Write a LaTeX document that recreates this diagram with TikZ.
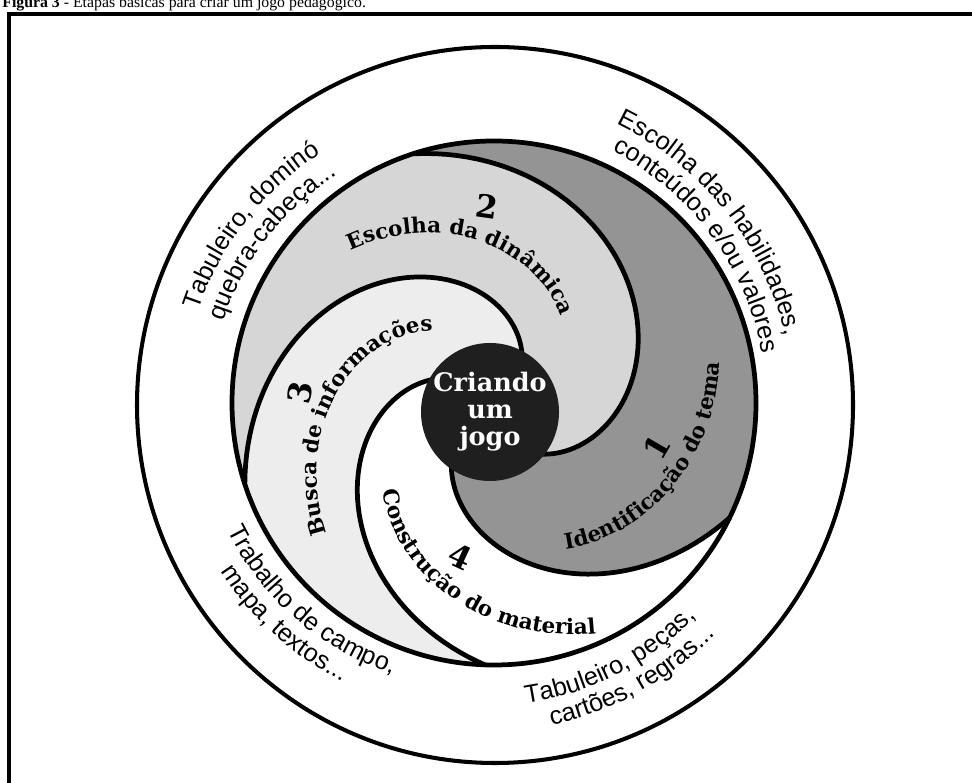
\documentclass[tikz,border=0pt]{standalone}
\usepackage{fontspec}
\setmainfont{Liberation Serif}
\newfontfamily\ringfont{Liberation Sans}
\newfontfamily\stagefont{DejaVu Serif}
\usetikzlibrary{decorations.text}
\definecolor{temagray}{gray}{0.58}
\definecolor{dinamicagray}{gray}{0.84}
\definecolor{buscagray}{gray}{0.93}
\definecolor{discgray}{gray}{0.12}
\newcommand{\ringtext}{\ringfont\fontsize{14.4}{17}\selectfont}
\newcommand{\stagetext}{\stagefont\bfseries\fontsize{12.2}{14}\selectfont}
\newcommand{\numtext}{\stagefont\bfseries\fontsize{18}{18}\selectfont}
\newcommand{\disctext}{\stagefont\bfseries\fontsize{14.5}{15.4}\selectfont}

\begin{document}
\begin{tikzpicture}[x=0.02cm, y=0.02cm,
    declare function={
        sr(\w,\sa,\sb,\ri,\ro)=\ri+(\ro-\ri)*((\w-\sa)/(\sb-\sa));
        spx(\w,\sa,\sb,\ri,\ro)=494+sr(\w,\sa,\sb,\ri,\ro)*cos(\w);
        spy(\w,\sa,\sb,\ri,\ro)=380+sr(\w,\sa,\sb,\ri,\ro)*sin(\w);
    },
    spiral/.style={line width=2.7pt, line join=round, line cap=round},
    ringlabel/.style={decorate, decoration={text along path, text align=center, text={|\ringtext|#1}}},
    stagelabel/.style={decorate, decoration={text along path, text align=center, text={|\stagetext|#1}}},
    stagenum/.style={font=\numtext, inner sep=0pt},
    centerdisc/.style={circle, fill=discgray, minimum size=2.6cm, inner sep=0pt, text=white, align=center, font=\disctext}]
        \useasboundingbox (0,0) rectangle (972,783);
        \clip (0,0) rectangle (972,783);
        \node[anchor=base west, inner sep=0pt, font=\fontsize{9}{11}\selectfont] (legenda) at (2,775) {\textbf{Figura 3} - Etapas básicas para criar um jogo pedagógico.};
        \draw [line width=2.3pt] (9,-20) rectangle (1000,769);

        \fill [white] (494,380) circle [radius=262];
        \fill [temagray] plot[domain=-130:-26, samples=60] ({spx(\x,-130,-26,65,262)},{spy(\x,-130,-26,65,262)})
            arc [start angle=-26, end angle=108, radius=262]
            -- plot[domain=108:-55, samples=70] ({spx(\x,-55,108,60,262)},{spy(\x,-55,108,60,262)}) -- cycle;
        \fill [dinamicagray] plot[domain=-55:108, samples=70] ({spx(\x,-55,108,60,262)},{spy(\x,-55,108,60,262)})
            arc [start angle=108, end angle=198, radius=262]
            -- plot[domain=198:54, samples=70] ({spx(\x,54,198,47,262)},{spy(\x,54,198,47,262)}) -- cycle;
        \fill [buscagray] plot[domain=54:198, samples=70] ({spx(\x,54,198,47,262)},{spy(\x,54,198,47,262)})
            arc [start angle=198, end angle=268, radius=262]
            -- plot[domain=268:153, samples=60] ({spx(\x,153,268,55,262)},{spy(\x,153,268,55,262)}) -- cycle;

        \draw [spiral] (494,380) circle [radius=262];
        \draw [spiral] plot[domain=-55:108, samples=70] ({spx(\x,-55,108,60,262)},{spy(\x,-55,108,60,262)});
        \draw [spiral] plot[domain=-130:-26, samples=60] ({spx(\x,-130,-26,65,262)},{spy(\x,-130,-26,65,262)});
        \draw [spiral] plot[domain=54:198, samples=70] ({spx(\x,54,198,47,262)},{spy(\x,54,198,47,262)});
        \draw [spiral] plot[domain=153:268, samples=60] ({spx(\x,153,268,55,262)},{spy(\x,153,268,55,262)});

        \node [centerdisc] (centro) at (490,371) {Criando\\um\\jogo};

        \path [stagelabel={Identificação do tema}] plot[domain=-78:20, samples=80] ({spx(\x,-68,10,159,229)},{spy(\x,-68,10,159,229)});
        \path [stagelabel={Escolha da dinâmica}] plot[domain=141:38, samples=80] ({spx(\x,48,131,104,207)},{spy(\x,48,131,104,207)});
        \path [stagelabel={Busca de informações}] plot[domain=223:120, samples=80] ({spx(\x,130,213,95,206)},{spy(\x,130,213,95,206)});
        \path [stagelabel={Construção do material}] plot[domain=206:301, samples=80] ({spx(\x,216,291,138,248)},{spy(\x,216,291,138,248)});

        \node [stagenum, rotate=60] (num1) at (657,336) {1};
        \node [stagenum, rotate=-8] (num2) at (487,577) {2};
        \node [stagenum, rotate=80] (num3) at (300,390) {3};
        \node [stagenum, rotate=-25] (num4) at (460,226) {4};

        \draw [line width=2.3pt] (495,378) circle [radius=358];

        \path [ringlabel={Tabuleiro, dominó}] (481,378) ++(172:298) arc [start angle=172, end angle=112, radius=298];
        \path [ringlabel={quebra-cabeça...}] (481,378) ++(172:271) arc [start angle=172, end angle=112, radius=271];
        \path [ringlabel={Escolha das habilidades,}] (481,378) ++(68.5:312) arc [start angle=68.5, end angle=8.5, radius=312];
        \path [ringlabel={conteúdos e/ou valores}] (481,378) ++(66.5:286) arc [start angle=66.5, end angle=6.5, radius=286];
        \path [ringlabel={Trabalho de campo,}] (481,378) ++(199:283) arc [start angle=199, end angle=259, radius=283];
        \path [ringlabel={mapa, textos...}] (481,378) ++(198:309) arc [start angle=198, end angle=258, radius=309];
        \path [ringlabel={Tabuleiro, peças,}] (481,378) ++(-93:302) arc [start angle=-93, end angle=-33, radius=302];
        \path [ringlabel={cartões, regras...}] (481,378) ++(-91:328) arc [start angle=-91, end angle=-31, radius=328];
    \end{tikzpicture}
\end{document}
